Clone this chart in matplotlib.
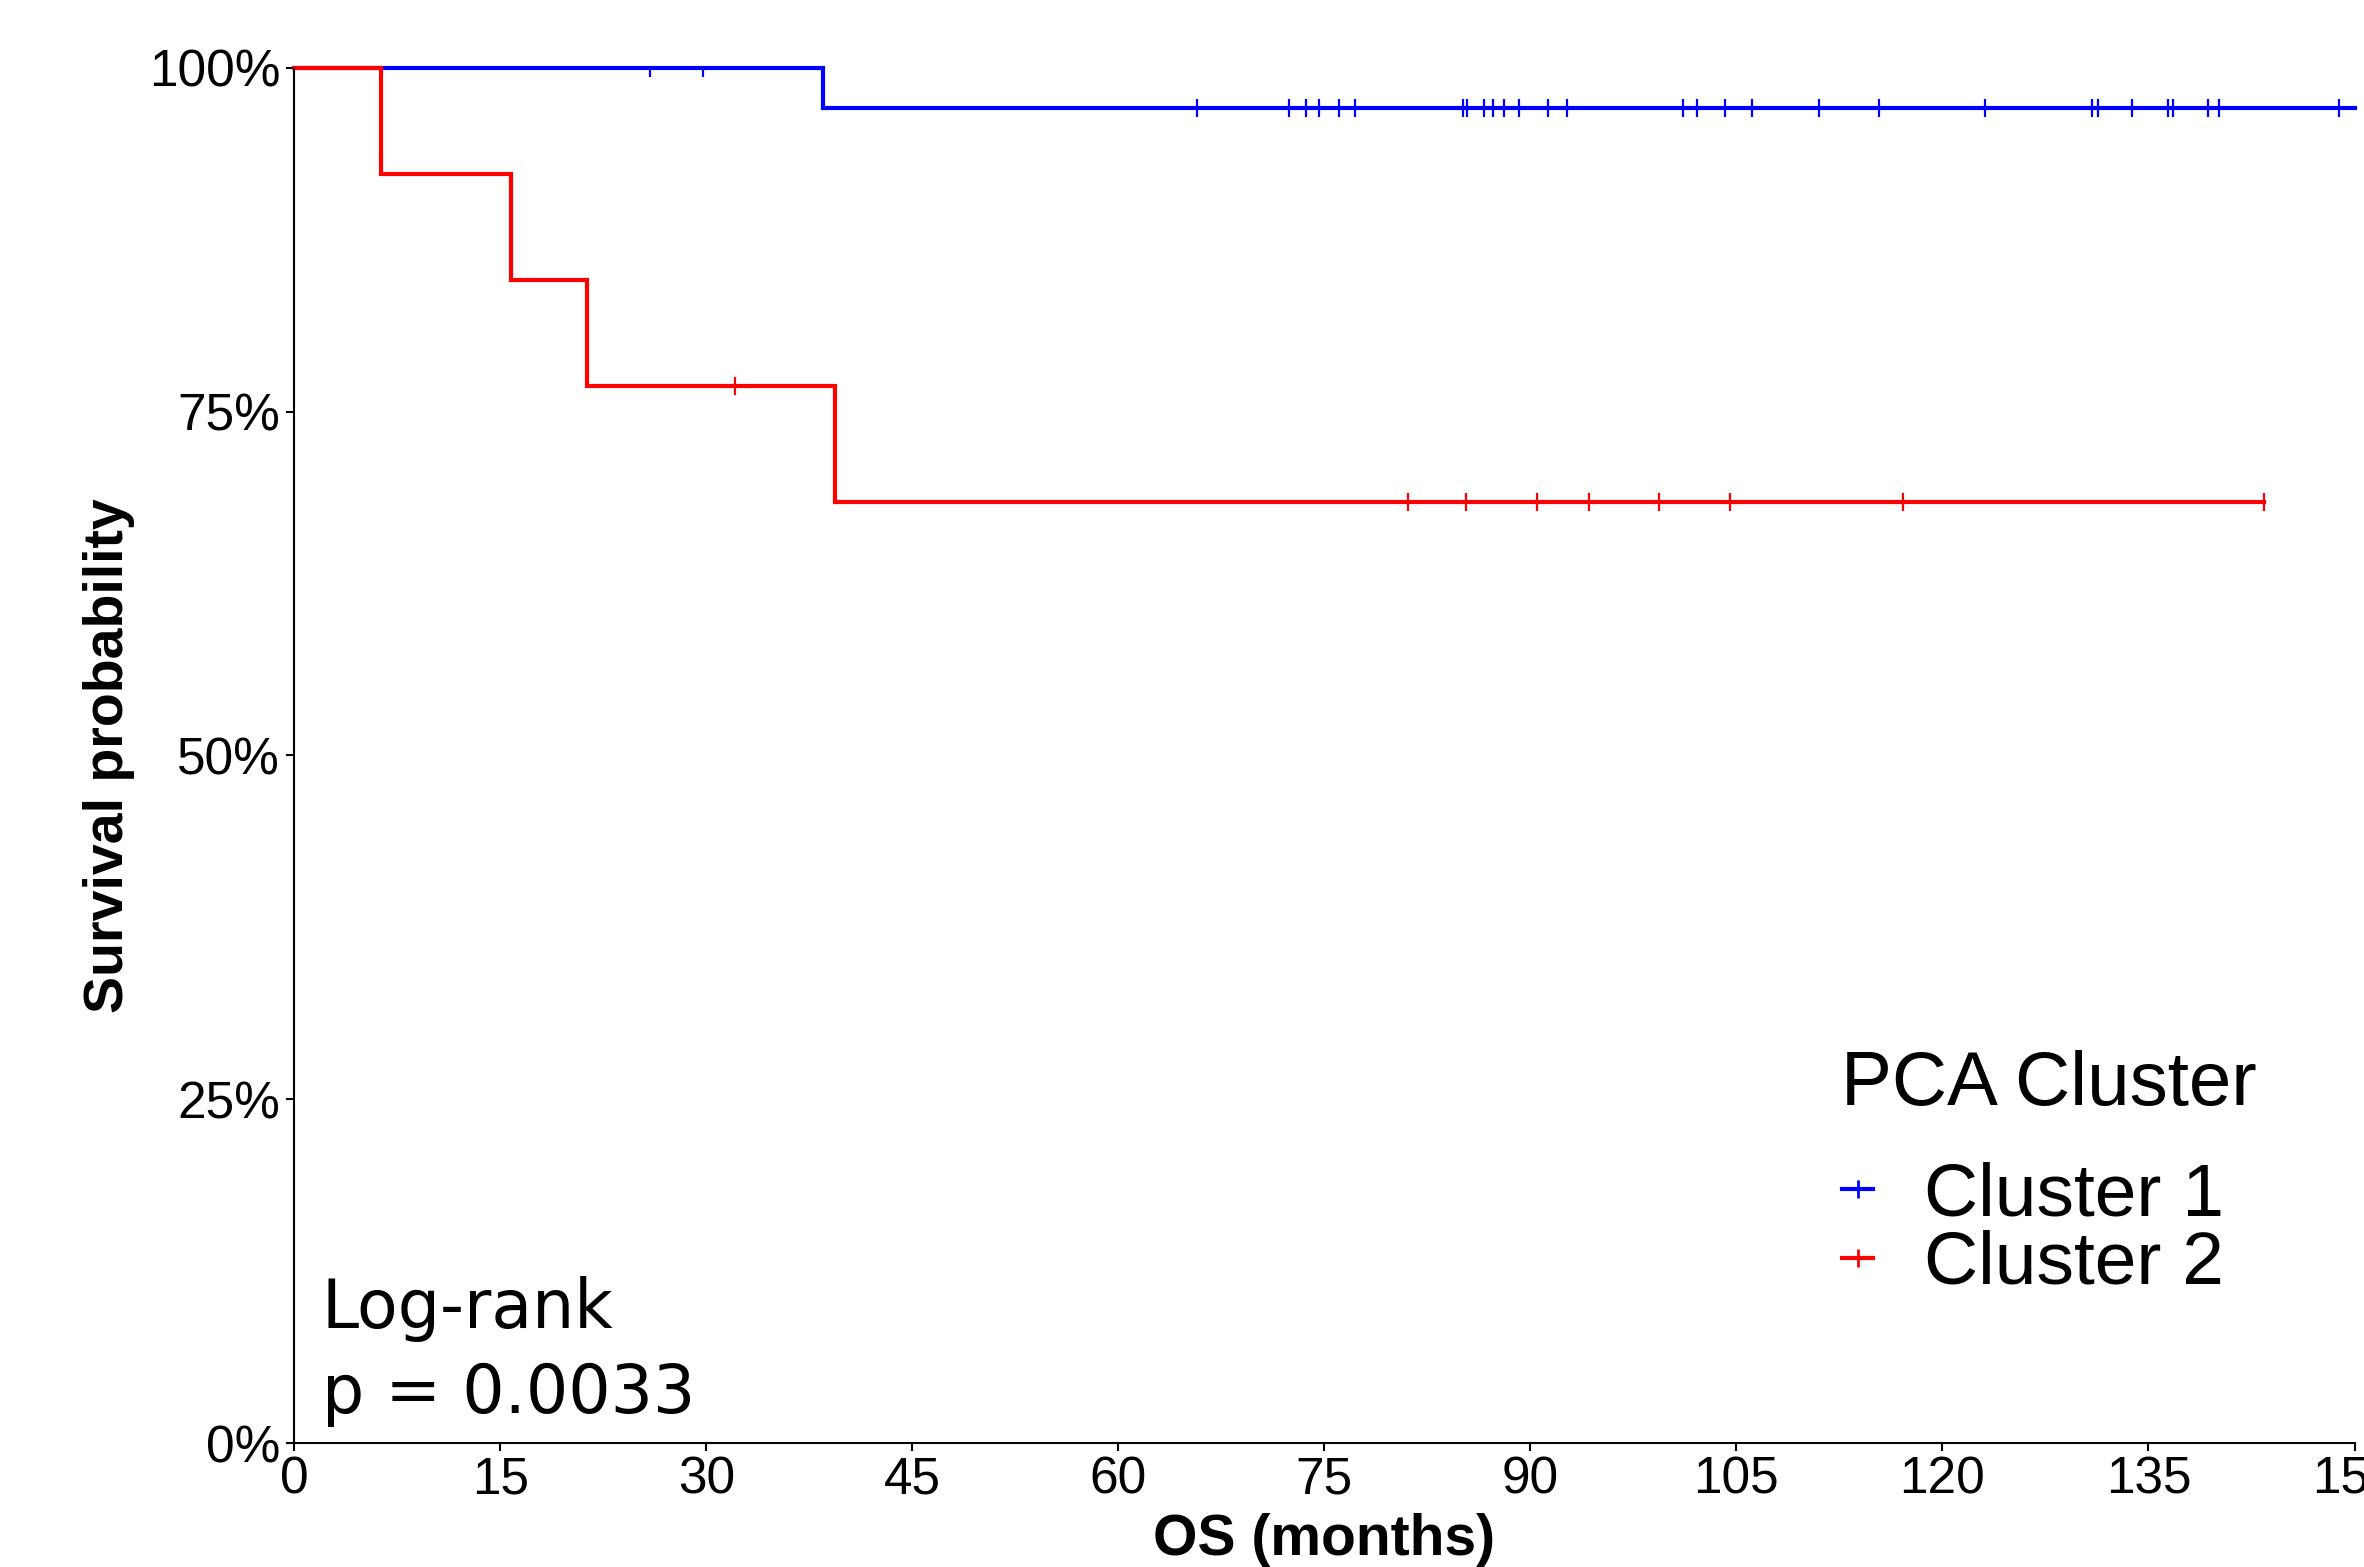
import numpy as np
import matplotlib
matplotlib.use("Agg")
import matplotlib.pyplot as plt
from matplotlib.lines import Line2D
from matplotlib.ticker import PercentFormatter

plt.rcParams["font.family"] = "Liberation Sans"

# Kaplan-Meier steps (months, survival probability)
c1_time = [0, 38.5, 150]
c1_surv = [1.0, 0.971, 0.971]
c1_cens = [25.9, 29.8, 65.7, 72.4, 73.7, 74.6, 76.1, 77.2, 85.1, 85.4, 86.6,
           87.3, 88.1, 89.2, 91.3, 92.7, 101.1, 102.1, 104.2, 106.1, 111.0,
           115.4, 123.1, 130.9, 131.3, 133.8, 136.4, 136.8, 139.3, 140.1, 148.9]

c2_time = [0, 6.3, 15.8, 21.3, 39.4, 143.4]
c2_surv = [1.0, 0.923, 0.846, 0.769, 0.684, 0.684]
c2_cens = [32.1, 81.1, 85.3, 90.5, 94.3, 99.4, 104.5, 117.1, 143.4]

groups = ["Cluster 1", "Cluster 2"]
colors = ["#0000FF", "#FF0000"]
x_ticks = list(range(0, 151, 15))
y_ticks = [0, 0.25, 0.5, 0.75, 1.0]


def surv_at(times, surv, t):
    i = np.searchsorted(times, t, side="right") - 1
    return np.asarray(surv)[i]


fig = plt.figure(figsize=(23.64, 15.67), dpi=100)
ax = fig.add_axes([0.1244, 0.0791, 0.8716, 0.8776])

for times, surv, cens, col in [(c1_time, c1_surv, c1_cens, colors[0]),
                               (c2_time, c2_surv, c2_cens, colors[1])]:
    ax.step(times, surv, where="post", color=col, lw=3, clip_on=False,
            solid_joinstyle="miter")
    ax.plot(cens, surv_at(times, surv, cens), ls="none", marker="|",
            ms=13, mew=1.6, color=col)

ax.set_xlim(0, 150)
ax.set_ylim(0, 1)
ax.set_xticks(x_ticks)
ax.set_yticks(y_ticks)
ax.yaxis.set_major_formatter(PercentFormatter(1.0, decimals=0))
ax.tick_params(labelsize=37, length=6, width=1.5, pad=4)
ax.tick_params(axis="x", pad=3)
for s in ["top", "right"]:
    ax.spines[s].set_visible(False)
for s in ["left", "bottom"]:
    ax.spines[s].set_linewidth(1.5)

ax.set_xlabel("OS (months)", fontsize=41, fontweight="bold", labelpad=6)
ax.set_ylabel("Survival probability", fontsize=40, fontweight="bold", labelpad=10)

ax.text(2.0, 0.012, "Log-rank\np = 0.0033", fontsize=48, family="DejaVu Sans",
        ha="left", va="bottom", linespacing=1.35)

# legend: title as its own text, entries below
fig.text(1841 / 2364, 1 - 1105 / 1567, "PCA Cluster", fontsize=55,
         ha="left", va="baseline")
handles = [Line2D([], [], color=c, lw=3, marker="|", ms=13, mew=2) for c in colors]
ax.legend(handles, groups, fontsize=54, frameon=False, loc="center left",
          bbox_to_anchor=(1842 / 2364, 1 - 1230 / 1567),
          bbox_transform=fig.transFigure, borderpad=0, borderaxespad=0,
          labelspacing=0.0, handlelength=0.42, handletextpad=0.68)

fig.savefig("out.png", dpi=100)
